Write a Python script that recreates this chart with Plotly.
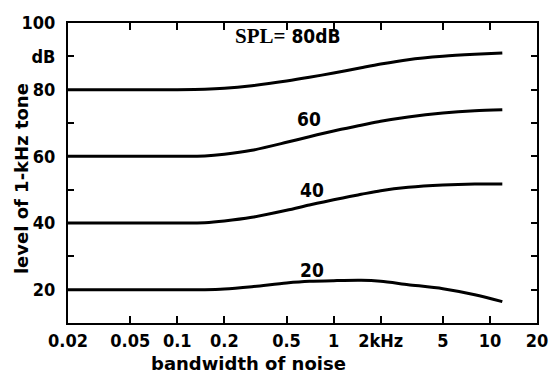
import plotly.graph_objects as go
import math

# bandwidth of noise (kHz) and level of 1-kHz tone (dB)
bw = [0.02, 0.1, 0.15, 0.2, 0.3, 0.5, 0.7, 1, 1.5, 2, 3, 5, 8, 12]
spl_80 = [80, 80, 80.1, 80.4, 81.2, 82.6, 83.7, 85, 86.6, 87.7, 89, 90, 90.6, 91]
spl_60 = [60, 60, 60.1, 60.6, 61.8, 64.2, 65.9, 67.6, 69.3, 70.5, 71.8, 73, 73.7, 74]
spl_40 = [40, 40, 40.1, 40.6, 41.7, 43.8, 45.4, 47, 48.6, 49.7, 50.7, 51.4, 51.7, 51.7]
spl_20 = [20, 20, 20, 20.2, 20.9, 22, 22.5, 22.7, 22.8, 22.5, 21.5, 20.3, 18.5, 16.4]

x_tickvals = [0.02, 0.05, 0.1, 0.2, 0.5, 1, 2, 5, 10, 20]
x_ticktext = ["0.02", "0.05", "0.1", "0.2", "0.5", "1", "2kHz", "5", "10", "20"]
y_tickvals = [20, 30, 40, 50, 60, 70, 80, 90, 100]
y_ticktext = ["20", "", "40", "", "60", "", "80", "dB", "100"]

FONT = "DejaVu Sans Condensed, DejaVu Sans, sans-serif"
TITLE_FONT = "DejaVu Sans, sans-serif"

fig = go.Figure()
for ys in [spl_80, spl_60, spl_40, spl_20]:
    fig.add_trace(go.Scatter(x=bw, y=ys, mode="lines",
                             line=dict(color="black", width=3, shape="spline", smoothing=0.8),
                             showlegend=False, hoverinfo="skip"))

labels = [
    (0.51, 96.1, "<span style='font-family:Liberation Serif, serif;font-weight:bold;font-size:21px'>SPL=</span> 80dB", 19),
    (0.695, 71.1, "60", 19),
    (0.727, 49.9, "40", 19),
    (0.727, 25.8, "20", 19),
]
for x, y, t, s in labels:
    fig.add_annotation(x=math.log10(x), y=y, text=t, showarrow=False, xanchor="center", yanchor="middle",
                       font=dict(family=FONT, size=s, color="black", weight="bold"))

# axis titles
fig.add_annotation(xref="paper", yref="paper", x=0.385, y=-0.135, text="bandwidth of noise", showarrow=False,
                   xanchor="center", yanchor="middle",
                   font=dict(family=TITLE_FONT, size=18, color="black", weight="bold"))
fig.add_annotation(xref="paper", yref="paper", x=-0.1, y=0.48, text="level of 1-kHz tone", showarrow=False,
                   xanchor="center", yanchor="middle", textangle=-90,
                   font=dict(family=TITLE_FONT, size=18, color="black", weight="bold"))

fig.update_xaxes(type="log", range=[math.log10(0.02), math.log10(20)], tickvals=x_tickvals, ticktext=x_ticktext,
                 ticks="inside", ticklen=7, tickwidth=2, tickcolor="black", mirror="ticks", showline=True,
                 linecolor="black", linewidth=2, showgrid=False, zeroline=False, ticklabelstandoff=0,
                 tickfont=dict(family=FONT, size=18, color="black", weight="bold"))
fig.update_yaxes(range=[10, 100], tickvals=y_tickvals, ticktext=y_ticktext,
                 ticks="inside", ticklen=6, tickwidth=2, tickcolor="black", mirror="ticks", showline=True,
                 linecolor="black", linewidth=2, showgrid=False, zeroline=False, ticklabelstandoff=7,
                 tickfont=dict(family=FONT, size=18, color="black", weight="bold"))
fig.update_layout(width=560, height=376, margin=dict(l=68, r=17, t=21, b=53),
                  paper_bgcolor="white", plot_bgcolor="white")
fig.write_html("out.html")
